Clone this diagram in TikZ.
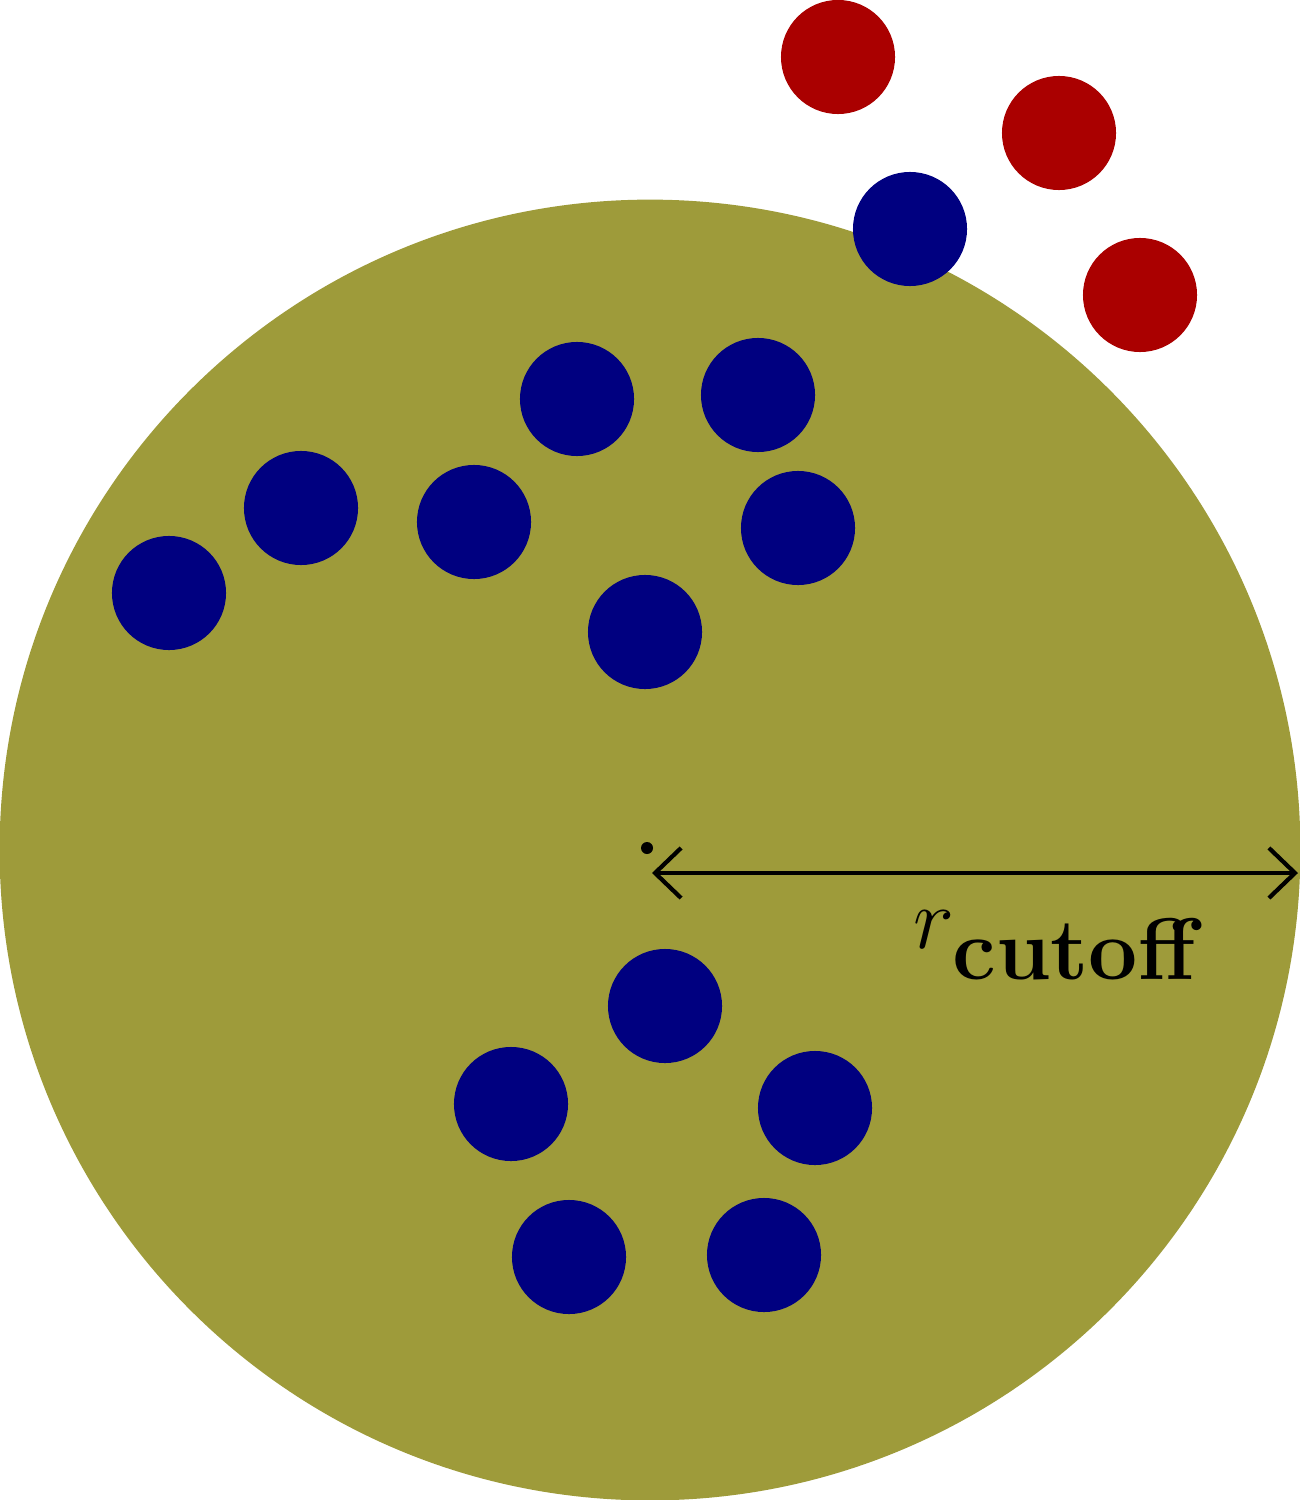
\documentclass[tikz,border=0pt]{standalone}
\usetikzlibrary{arrows.meta}
\definecolor{olive}{RGB}{158,155,58}
\definecolor{navy}{RGB}{0,0,128}
\definecolor{dred}{RGB}{170,0,0}
\begin{document}
\begin{tikzpicture}[x=0.01cm,y=-0.01cm,
  atom/.style={circle,minimum size=1.14cm,inner sep=0pt,fill=#1}]
\useasboundingbox (0,0) rectangle (1300,1500);
\node[circle,fill=olive,minimum size=13cm,inner sep=0pt] (cut) at (650,850) {};
\foreach \x/\y [count=\i] in {838/57,1059/133,1140/295}
  \node[atom=dred] (r\i) at (\x,\y) {};
\foreach \x/\y [count=\i] in {910/229,577/399,758/395,301/508,474/522,798/528,169/593,645/632,665/1006,511/1104,815/1108,569/1257,764/1255}
  \node[atom=navy] (b\i) at (\x,\y) {};
\node[circle,fill=black,minimum size=0.12cm,inner sep=0pt] (c) at (647,848) {};
\coordinate (a1) at (652,873);
\coordinate (a2) at (1298,873);
\draw[line width=1.2pt,{Straight Barb[length=0.26cm,width=0.5cm]}-{Straight Barb[length=0.26cm,width=0.5cm]}] (a1) -- (a2);
\node (lab) at (1060,945) {\fontsize{40}{48}\selectfont $r_{\mathbf{cutoff}}$};
\end{tikzpicture}
\end{document}
